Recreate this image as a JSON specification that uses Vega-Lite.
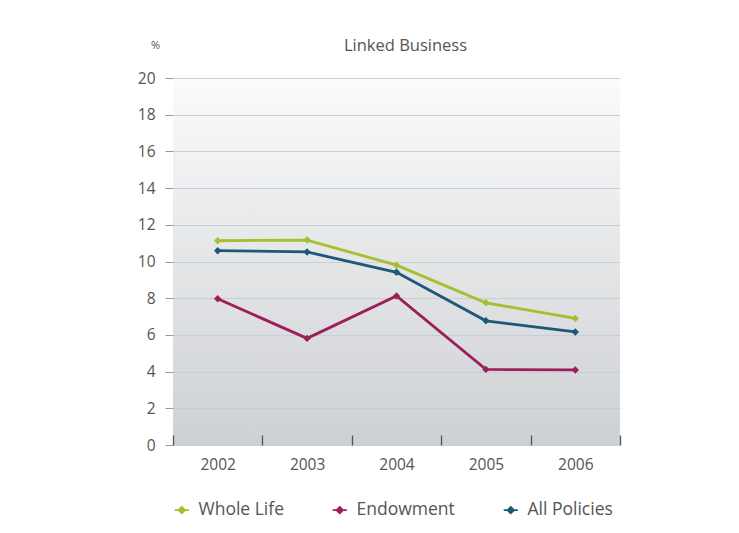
{
  "$schema": "https://vega.github.io/schema/vega-lite/v6.json",
  "autosize": "none",
  "width": 447,
  "height": 367,
  "padding": {"left": 173, "top": 78, "right": 119, "bottom": 88},
  "background": "white",
  "title": {"text": "Linked Business", "font": "Open Sans", "fontSize": 16.5, "fontWeight": "normal", "color": "#555555", "offset": -15, "anchor": "middle", "dx": 9},
  "config": {
    "font": "Open Sans",
    "view": {"fill": {"gradient": "linear", "x1": 0, "y1": 0, "x2": 0, "y2": 1, "stops": [{"offset": 0, "color": "#fbfbfb"}, {"offset": 1, "color": "#cdd0d4"}]}, "stroke": null}
  },
  "data": {"values": [
    {"year": "2002", "series": "Whole Life", "value": 11.13},
    {"year": "2003", "series": "Whole Life", "value": 11.17},
    {"year": "2004", "series": "Whole Life", "value": 9.8},
    {"year": "2005", "series": "Whole Life", "value": 7.75},
    {"year": "2006", "series": "Whole Life", "value": 6.9},
    {"year": "2002", "series": "Endowment", "value": 7.97},
    {"year": "2003", "series": "Endowment", "value": 5.81},
    {"year": "2004", "series": "Endowment", "value": 8.12},
    {"year": "2005", "series": "Endowment", "value": 4.12},
    {"year": "2006", "series": "Endowment", "value": 4.09},
    {"year": "2002", "series": "All Policies", "value": 10.59},
    {"year": "2003", "series": "All Policies", "value": 10.52},
    {"year": "2004", "series": "All Policies", "value": 9.41},
    {"year": "2005", "series": "All Policies", "value": 6.77},
    {"year": "2006", "series": "All Policies", "value": 6.16}
  ]},
  "mark": {"type": "line", "strokeWidth": 2.8, "point": {"shape": "diamond", "size": 55, "filled": true}},
  "encoding": {
    "x": {"field": "year", "type": "ordinal", "scale": {"type": "band", "paddingInner": 0, "paddingOuter": 0},
      "axis": {"title": null, "labelAngle": 0, "labelFontSize": 15.5, "labelColor": "#555555", "labelPadding": 22, "domain": false, "tickBand": "extent", "tickSize": -10, "tickColor": "#555555", "tickWidth": 1.3, "grid": false}},
    "y": {"field": "value", "type": "quantitative", "scale": {"domain": [0, 20], "nice": false},
      "axis": {"title": "%", "titleAngle": 0, "titleAlign": "center", "titleBaseline": "middle", "titleX": -18, "titleY": -33, "titleFontSize": 11, "titleFontWeight": "normal", "titleColor": "#555555",
        "values": [0, 2, 4, 6, 8, 10, 12, 14, 16, 18, 20], "labelFontSize": 15.5, "labelColor": "#555555", "labelPadding": 10, "domain": false, "tickSize": 8, "tickColor": "#999999", "gridColor": "#c9ced3", "gridWidth": 1}},
    "color": {"field": "series", "type": "nominal", "sort": ["Whole Life", "Endowment", "All Policies"],
      "scale": {"domain": ["Whole Life", "Endowment", "All Policies"], "range": ["#a5bf2f", "#9c1f5c", "#1e5877"]},
      "legend": {"title": null, "orient": "bottom", "direction": "horizontal", "labelFontSize": 17.5, "labelColor": "#555555", "columnPadding": 45, "offset": 28, "symbolType": "M-1,0L1,0M0,-0.45L0.45,0L0,0.45L-0.45,0Z", "symbolSize": 200, "symbolStrokeWidth": 1.8, "labelOffset": 8}}
  }
}
